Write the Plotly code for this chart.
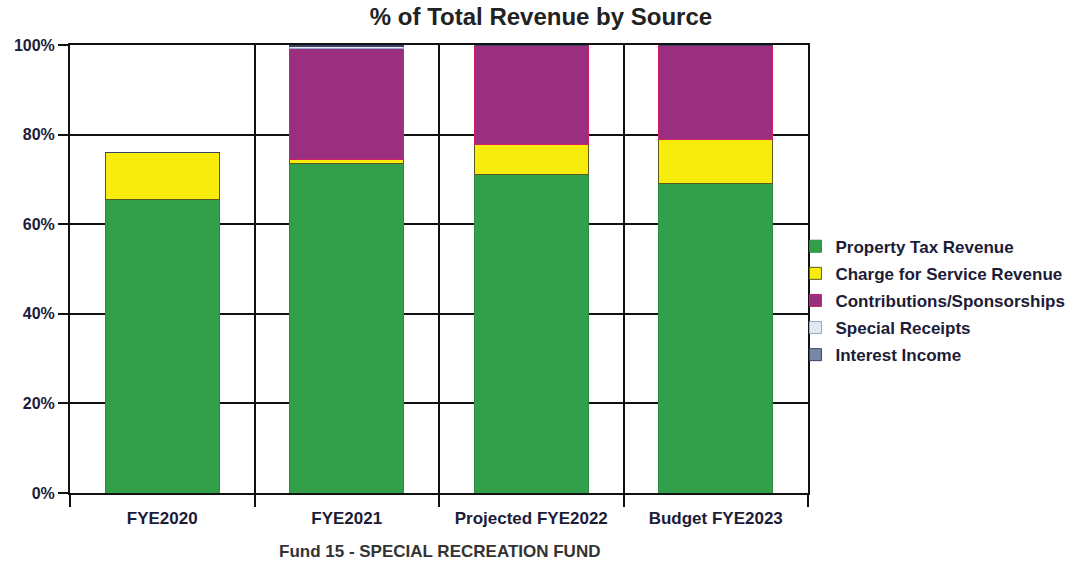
import plotly.graph_objects as go

categories = ["FYE2020", "FYE2021", "Projected FYE2022", "Budget FYE2023"]
property_tax = [65.6, 73.6, 71.0, 69.1]
charge_for_service = [10.3, 0.8, 6.8, 9.8]
contributions = [0.0, 24.9, 22.2, 21.1]
special_receipts = [0.0, 0.4, 0.0, 0.0]
interest_income = [0.1, 0.3, 0.0, 0.0]

series = [
    ("Property Tax Revenue", property_tax, "#32a04a", "#2a8a3e"),
    ("Charge for Service Revenue", charge_for_service, "#f7ec0c", "#5a5a20"),
    ("Contributions/Sponsorships", contributions, "#9a2f7f", "#d0206a"),
    ("Special Receipts", special_receipts, "#e2e8f4", "#9aa6c8"),
    ("Interest Income", interest_income, "#7a86a6", "#3a4466"),
]

font_family = "Arial, Liberation Sans, sans-serif"
text_color = "#1c1c38"

fig = go.Figure()
for i, (name, vals, color, line) in enumerate(series):
    fig.add_trace(go.Bar(
        x=categories, y=vals, name="<b>" + name + "</b>",
        marker=dict(color=color, line=dict(color=line, width=1)),
        width=0.62, legendgroup="g%d" % i,
    ))

fig.update_layout(
    width=1082, height=564,
    barmode="stack",
    paper_bgcolor="white", plot_bgcolor="white",
    margin=dict(l=70, r=274, t=45, b=71, autoexpand=False),
    title=dict(text="<b>% of Total Revenue by Source</b>", x=0.5, xref="container",
               xanchor="center", y=0.97, yanchor="middle",
               font=dict(family=font_family, size=24, color="#222222")),
    showlegend=True,
    legend=dict(x=0.983, xanchor="left", y=0.59, yanchor="top",
                traceorder="grouped", tracegroupgap=2,
                font=dict(family=font_family, size=17, color=text_color),
                bgcolor="rgba(0,0,0,0)", itemwidth=30),
    bargap=0.38,
    annotations=[dict(text="<b>Fund 15 - SPECIAL RECREATION FUND</b>",
                      x=0.5, xref="paper", y=-0.13, yref="paper",
                      xanchor="center", yanchor="middle", showarrow=False,
                      font=dict(family=font_family, size=17, color="#333333"))],
)

fig.update_xaxes(
    tickson="boundaries", showgrid=True, gridcolor="#111111", gridwidth=1.5,
    ticks="outside", ticklen=12, tickcolor="#111111", tickwidth=1.5,
    showline=True, linecolor="#111111", linewidth=2, mirror=True,
    tickfont=dict(family=font_family, size=17, color=text_color),
    tickprefix="<b>", ticksuffix="</b>", ticklabelstandoff=9,
)
fig.update_yaxes(
    range=[0, 100], dtick=20, ticksuffix="%</b>", tickprefix="<b>",
    showgrid=True, gridcolor="#111111", gridwidth=1.5,
    ticks="outside", ticklen=10, tickcolor="#111111", tickwidth=1.5,
    showline=True, linecolor="#111111", linewidth=2, mirror=True,
    tickfont=dict(family=font_family, size=16, color=text_color),
    zeroline=False,
)

fig.write_html("out.html")
